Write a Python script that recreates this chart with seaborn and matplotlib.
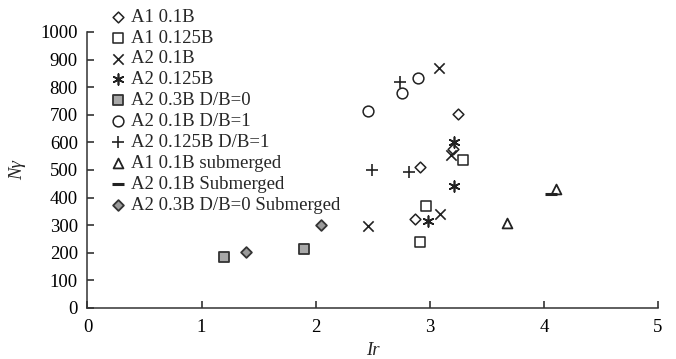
import matplotlib
matplotlib.use("Agg")
import matplotlib.pyplot as plt
import seaborn as sns
import pandas as pd

# ---- data ----
a1_01b_x = [2.91, 3.25, 3.20, 2.87]
a1_01b_y = [510, 704, 577, 322]
a1_0125b_x = [3.29, 2.97, 2.91]
a1_0125b_y = [536, 371, 240]
a2_01b_x = [3.08, 3.19, 3.09, 2.46]
a2_01b_y = [868, 555, 340, 298]
a2_0125b_x = [3.21, 3.21, 2.98]
a2_0125b_y = [600, 442, 316]
a2_03b_db0_x = [1.20, 1.90]
a2_03b_db0_y = [186, 213]
a2_01b_db1_x = [2.76, 2.90, 2.46]
a2_01b_db1_y = [778, 834, 714]
a2_0125b_db1_x = [2.74, 2.49, 2.82]
a2_0125b_db1_y = [820, 500, 494]
a1_01b_sub_x = [3.68, 4.11]
a1_01b_sub_y = [309, 430]
a2_01b_sub_x = [4.06]
a2_01b_sub_y = [412]
a2_03b_db0_sub_x = [1.385, 2.05]
a2_03b_db0_sub_y = [204, 301]

labels = ["A1 0.1B", "A1 0.125B", "A2 0.1B", "A2 0.125B", "A2 0.3B D/B=0",
          "A2 0.1B D/B=1", "A2 0.125B D/B=1", "A1 0.1B submerged",
          "A2 0.1B Submerged", "A2 0.3B D/B=0 Submerged"]
xs = [a1_01b_x, a1_0125b_x, a2_01b_x, a2_0125b_x, a2_03b_db0_x,
      a2_01b_db1_x, a2_0125b_db1_x, a1_01b_sub_x, a2_01b_sub_x, a2_03b_db0_sub_x]
ys = [a1_01b_y, a1_0125b_y, a2_01b_y, a2_0125b_y, a2_03b_db0_y,
      a2_01b_db1_y, a2_0125b_db1_y, a1_01b_sub_y, a2_01b_sub_y, a2_03b_db0_sub_y]

x_ticks = [0, 1, 2, 3, 4, 5]
y_ticks = list(range(0, 1001, 100))

# ---- styles ----
styles = [
    dict(marker="D", s=30, facecolor="white", edgecolor="#222222", linewidth=1.1),
    dict(marker="s", s=55, facecolor="white", edgecolor="#222222", linewidth=1.1),
    dict(marker="x", s=55, color="#222222", linewidth=1.2),
    dict(marker=(6, 2, 0), s=60, color="#222222", linewidth=1.2),
    dict(marker="s", s=55, facecolor="#a8a8a8", edgecolor="#333333", linewidth=1.3),
    dict(marker="o", s=60, facecolor="white", edgecolor="#222222", linewidth=1.1),
    dict(marker="+", s=65, color="#222222", linewidth=1.2),
    dict(marker="^", s=50, facecolor="white", edgecolor="#222222", linewidth=1.3),
    dict(marker="_", s=75, color="#222222", linewidth=2.2),
    dict(marker="D", s=30, facecolor="#9a9a9a", edgecolor="#333333", linewidth=1.3),
]

sns.set_style("ticks")
plt.rcParams["font.family"] = ["Liberation Serif", "DejaVu Serif"]

fig = plt.figure(figsize=(6.76, 3.59), dpi=100)
ax = fig.add_axes([0.1294, 0.1421, 0.9734 - 0.1294, 0.9109 - 0.1421])

for lab, x, y, st in zip(labels, xs, ys, styles):
    df = pd.DataFrame({"x": x, "y": y})
    st = dict(st)
    if "color" in st:
        c = st.pop("color")
        sns.scatterplot(data=df, x="x", y="y", ax=ax, color=c, label=lab, **st)
    else:
        sns.scatterplot(data=df, x="x", y="y", ax=ax, label=lab, **st)

ax.set_xlim(0, 5)
ax.set_ylim(0, 1000)
ax.set_xticks(x_ticks)
ax.set_yticks(y_ticks)
ax.tick_params(direction="in", length=5, width=1.1, colors="#222222",
               labelsize=13.5, pad=7, labelcolor="black")
ax.tick_params(axis="x", pad=8)
for side in ["left", "bottom"]:
    ax.spines[side].set_linewidth(1.1)
    ax.spines[side].set_color("#333333")
sns.despine(ax=ax)

ax.set_xlabel("Ir", fontsize=13.5, style="italic", labelpad=4)
ax.set_ylabel("Nγ", fontsize=13.5, style="italic", labelpad=10)

leg = ax.legend(loc="upper left", bbox_to_anchor=(0.161, 0.976),
                bbox_transform=fig.transFigure, frameon=False, fontsize=13.5,
                labelspacing=0.2, handlelength=1.0, handletextpad=0.2,
                borderpad=0, borderaxespad=0)

fig.savefig("out.png", dpi=100)
